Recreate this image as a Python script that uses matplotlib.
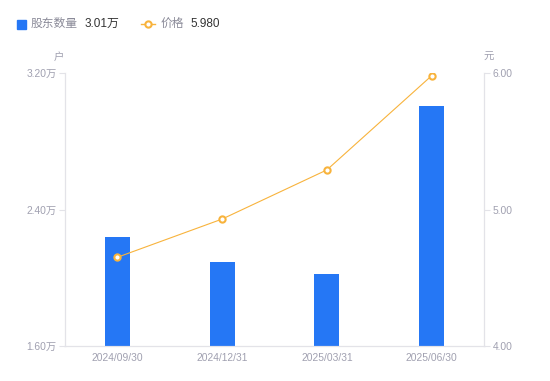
import matplotlib.pyplot as plt
from matplotlib.lines import Line2D
import numpy as np

plt.rcParams['font.family'] = ['Liberation Sans', 'Noto Sans CJK SC', 'DejaVu Sans']

dates = ['2024/09/30', '2024/12/31', '2025/03/31', '2025/06/30']
holders = [2.24, 2.09, 2.02, 3.005]   # 万户
price = [4.65, 4.93, 5.29, 5.98]      # 元
left_ticks = [1.6, 2.4, 3.2]
right_ticks = [4.0, 5.0, 6.0]

blue = '#2577F5'
orange = '#F8B33C'
grey_txt = '#A0A0B0'
axis_col = '#E3E3E8'

fig = plt.figure(figsize=(5.5, 3.81), dpi=100)
ax = fig.add_axes([65 / 550, 35 / 381, 419 / 550, 273 / 381])
ax2 = ax.twinx()

x = np.arange(len(dates))
ax.bar(x, holders, width=0.24, color=blue, zorder=2)
ax.set_xlim(-0.5, len(dates) - 0.5)
ax.set_ylim(1.6, 3.2)
ax.set_yticks(left_ticks)
ax.set_yticklabels([f'{v:.2f}万' for v in left_ticks])
ax.set_xticks(x)
ax.set_xticklabels(dates)

ax2.plot(x, price, color=orange, lw=0.8, marker='o', ms=4.5,
         mfc='white', mec=orange, mew=1.5, zorder=3)
ax2.set_ylim(4.0, 6.0)
ax2.set_yticks(right_ticks)
ax2.set_yticklabels([f'{v:.2f}' for v in right_ticks])

for a in (ax, ax2):
    for s in a.spines.values():
        s.set_color(axis_col)
    a.spines['top'].set_visible(False)
    a.tick_params(colors=axis_col, labelcolor=grey_txt, labelsize=7.4,
                  length=4, width=0.8)
ax.tick_params(axis='x', length=0, pad=5)
ax.tick_params(axis='y', pad=2)
ax2.tick_params(axis='y', pad=2)
ax2.set_zorder(ax.get_zorder() + 1)
ax2.patch.set_visible(False)

fig.text(59 / 550, 1 - 57 / 381, '户', color=grey_txt, fontsize=7.5,
         ha='center', va='center')
fig.text(489 / 550, 1 - 57 / 381, '元', color=grey_txt, fontsize=7.5,
         ha='center', va='center')

# legend
ly = 1 - 24 / 381
fig.patches.append(plt.Rectangle((17 / 550, ly - 4.5 / 381), 9 / 550, 9 / 381,
                                 transform=fig.transFigure, color=blue))
fig.text(31 / 550, ly, '股东数量', color='#8A8A98', fontsize=8.5, va='center')
fig.text(85 / 550, ly, '3.01万', color='#333333', fontsize=8.5, va='center')
fig.add_artist(Line2D([141 / 550, 155 / 550], [ly, ly], color=orange, lw=1,
                      transform=fig.transFigure))
fig.add_artist(Line2D([148 / 550], [ly], color=orange, marker='o', ms=4.5,
                      mfc='white', mew=1.5, transform=fig.transFigure))
fig.text(161 / 550, ly, '价格', color='#8A8A98', fontsize=8.5, va='center')
fig.text(190 / 550, ly, '5.980', color='#333333', fontsize=8.5, va='center')

fig.savefig('out.png', dpi=100)
